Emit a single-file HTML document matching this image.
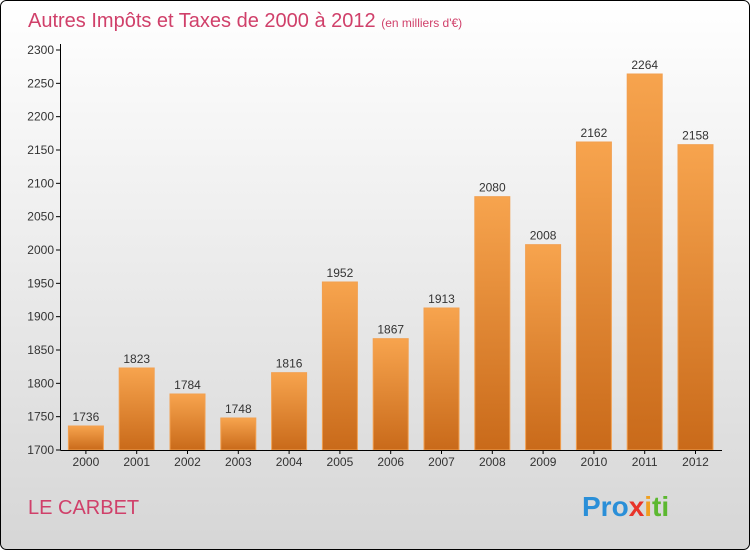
<!DOCTYPE html>
<html><head><meta charset="utf-8"><style>
body{margin:0;width:750px;height:550px;overflow:hidden;font-family:"Liberation Sans",sans-serif}
svg text{font-family:"Liberation Sans",sans-serif}
</style></head><body>
<svg width="750" height="550">
<defs>
<linearGradient id="bg" x1="0" y1="0" x2="0" y2="1"><stop offset="0" stop-color="#ffffff"/><stop offset="1" stop-color="#d6d6d6"/></linearGradient>
<linearGradient id="bar" x1="0" y1="0" x2="0" y2="1"><stop offset="0" stop-color="#f7a44e"/><stop offset="1" stop-color="#c96a1a"/></linearGradient>
</defs>
<rect x="0.5" y="0.5" width="749" height="549" rx="6" fill="url(#bg)" stroke="#000"/>
<text x="28" y="27" font-size="20" fill="#d0406a">Autres Impôts et Taxes de 2000 à 2012 <tspan font-size="12">(en milliers d'€)</tspan></text>
<text x="28" y="514" font-size="20" fill="#d0406a">LE CARBET</text>
<text x="582" y="516" font-size="28" font-weight="bold"><tspan fill="#2a8fd8">Pro</tspan><tspan fill="#e8342a">x</tspan><tspan fill="#f0a020">i</tspan><tspan fill="#5cb830">ti</tspan></text>
<g id="g"></g>
</svg>
<script>
const categories=["2000","2001","2002","2003","2004","2005","2006","2007","2008","2009","2010","2011","2012"];
const values=[1736,1823,1784,1748,1816,1952,1867,1913,2080,2008,2162,2264,2158];
const yTicks=[1700,1750,1800,1850,1900,1950,2000,2050,2100,2150,2200,2250,2300];
const NS="http://www.w3.org/2000/svg",g=document.getElementById('g');
const x0=60.5,band=50.8,y=v=>450-(v-1700)*400/600;
function mk(t,a,txt){const e=document.createElementNS(NS,t);for(const k in a)e.setAttribute(k,a[k]);if(txt!=null)e.textContent=txt;g.appendChild(e);return e;}
yTicks.forEach(t=>{
const l=mk('line',{x1:56,x2:60.5,y1:y(t),y2:y(t),stroke:'#000'});


const tx=mk('text',{x:54,y:y(t)+4,'font-size':12,'text-anchor':'end',fill:'#333'},t);


});
categories.forEach((c,i)=>{
const cx=x0+band*(i+0.5),v=values[i];
const r=mk('rect',{x:cx-17.5,y:y(v),width:35,height:450-y(v),fill:'url(#bar)',stroke:'#f2a050','stroke-width':1});


const vl=mk('text',{x:cx,y:y(v)-5,'font-size':12,'text-anchor':'middle',fill:'#333'},v);


const tk=mk('line',{x1:cx,x2:cx,y1:450,y2:454,stroke:'#000'});


const xl=mk('text',{x:cx,y:466,'font-size':12,'text-anchor':'middle',fill:'#333'},c);


});
const ya=mk('line',{x1:60.5,x2:60.5,y1:44,y2:450,stroke:'#000'});


const xa=mk('line',{x1:60.5,x2:722,y1:450.5,y2:450.5,stroke:'#000'});


</script>
</body></html>
